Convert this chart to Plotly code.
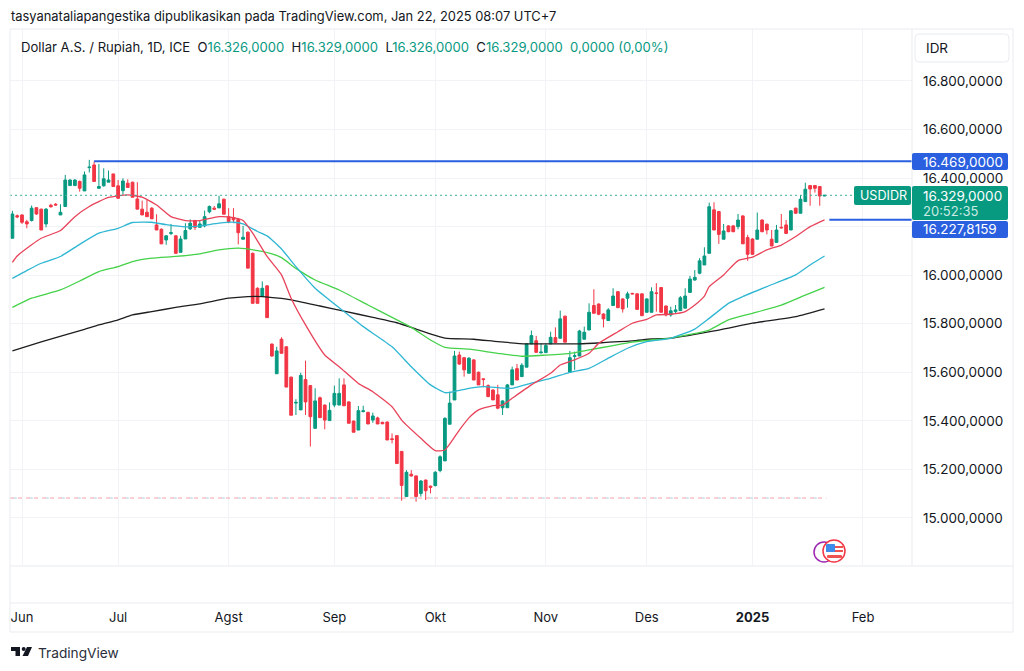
import plotly.graph_objects as go

# USD/IDR daily bars (one bar per weekday, 0 = 3 Jun 2024)
bar_index = list(range(-2, 168))
opens = [16152, 16245, 16248, 16220, 16225, 16278, 16272, 16211, 16288, 16292,
         16248, 16283, 16369, 16369, 16386, 16347, 16443, 16454, 16358, 16368,
         16383, 16417, 16368, 16348, 16379, 16383, 16314, 16272, 16259, 16276,
         16207, 16189, 16145, 16172, 16162, 16094, 16149, 16191, 16225, 16197,
         16203, 16261, 16276, 16277, 16313, 16241, 16237, 16230, 16148, 16177,
         16090, 15946, 15912, 15956, 15716, 15594, 15736, 15705, 15580, 15473,
         15445, 15570, 15545, 15369, 15495, 15465, 15401, 15465, 15465, 15548,
         15478, 15399, 15362, 15438, 15435, 15403, 15412, 15394, 15395, 15326,
         15339, 15274, 15088, 15180, 15173, 15101, 15156, 15131, 15133, 15195,
         15235, 15386, 15486, 15671, 15660, 15596, 15651, 15600, 15573, 15545,
         15527, 15507, 15454, 15454, 15548, 15615, 15582, 15621, 15717, 15730,
         15680, 15681, 15717, 15743, 15740, 15831, 15600, 15665, 15667, 15736,
         15774, 15875, 15881, 15840, 15813, 15875, 15932, 15902, 15905, 15925,
         15923, 15923, 15847, 15847, 15927, 15949, 15873, 15836, 15850, 15854,
         15864, 15929, 15980, 16008, 16042, 16090, 16269, 16262, 16148, 16203,
         16203, 16200, 16244, 16155, 16149, 16148, 16227, 16210, 16148, 16135,
         16197, 16207, 16186, 16276, 16255, 16303, 16369, 16369, 16365, 16326]
highs = [16265, 16250, 16250, 16228, 16287, 16280, 16274, 16276, 16294, 16297,
         16292, 16413, 16395, 16395, 16390, 16427, 16475, 16468, 16458, 16440,
         16431, 16417, 16392, 16399, 16395, 16385, 16383, 16307, 16310, 16280,
         16251, 16193, 16165, 16211, 16165, 16162, 16214, 16230, 16228, 16225,
         16266, 16287, 16285, 16327, 16315, 16276, 16276, 16234, 16203, 16180,
         16093, 15950, 15974, 15958, 15719, 15705, 15744, 15707, 15582, 15489,
         15598, 15648, 15548, 15534, 15500, 15467, 15476, 15545, 15575, 15575,
         15480, 15401, 15461, 15462, 15437, 15434, 15417, 15396, 15398, 15348,
         15341, 15276, 15197, 15197, 15175, 15156, 15158, 15133, 15193, 15258,
         15415, 15520, 15688, 15685, 15663, 15662, 15654, 15603, 15575, 15550,
         15530, 15548, 15484, 15552, 15623, 15634, 15637, 15720, 15772, 15750,
         15719, 15719, 15767, 15785, 15854, 15833, 15688, 15685, 15775, 15788,
         15884, 15942, 15884, 15843, 15864, 15946, 15934, 15905, 15932, 15927,
         15925, 15925, 15905, 15950, 15967, 15950, 15875, 15870, 15877, 15914,
         15946, 15997, 16021, 16070, 16115, 16299, 16300, 16265, 16211, 16206,
         16206, 16252, 16247, 16166, 16152, 16258, 16230, 16212, 16186, 16207,
         16252, 16227, 16268, 16278, 16330, 16381, 16371, 16371, 16367, 16329]
lows = [16152, 16235, 16211, 16193, 16221, 16248, 16186, 16197, 16278, 16286,
        16248, 16283, 16369, 16369, 16344, 16347, 16423, 16386, 16355, 16365,
        16383, 16365, 16314, 16331, 16361, 16321, 16272, 16248, 16241, 16232,
        16186, 16129, 16125, 16165, 16090, 16094, 16149, 16186, 16186, 16197,
        16197, 16255, 16269, 16277, 16251, 16214, 16214, 16127, 16148, 16029,
        15884, 15884, 15912, 15825, 15664, 15594, 15678, 15539, 15423, 15424,
        15445, 15424, 15294, 15369, 15413, 15365, 15401, 15456, 15465, 15462,
        15390, 15353, 15362, 15435, 15387, 15392, 15387, 15386, 15321, 15307,
        15224, 15071, 15088, 15170, 15067, 15088, 15074, 15101, 15130, 15188,
        15235, 15386, 15486, 15630, 15582, 15596, 15568, 15548, 15538, 15497,
        15486, 15448, 15424, 15454, 15548, 15568, 15582, 15621, 15717, 15682,
        15678, 15681, 15717, 15722, 15740, 15724, 15600, 15610, 15667, 15736,
        15774, 15843, 15835, 15785, 15813, 15875, 15866, 15846, 15866, 15921,
        15859, 15833, 15847, 15847, 15850, 15847, 15830, 15829, 15843, 15854,
        15864, 15929, 15977, 16004, 16042, 16090, 16186, 16129, 16148, 16177,
        16177, 16189, 16129, 16059, 16084, 16148, 16177, 16168, 16120, 16135,
        16193, 16172, 16186, 16253, 16255, 16303, 16286, 16340, 16286, 16326]
closes = [16252, 16240, 16218, 16211, 16276, 16252, 16186, 16272, 16282, 16289,
          16259, 16392, 16392, 16392, 16358, 16413, 16445, 16386, 16365, 16397,
          16392, 16365, 16317, 16388, 16361, 16321, 16272, 16248, 16241, 16232,
          16186, 16129, 16162, 16175, 16090, 16149, 16184, 16214, 16197, 16211,
          16241, 16283, 16272, 16294, 16251, 16221, 16228, 16175, 16156, 16029,
          15884, 15884, 15946, 15825, 15667, 15688, 15678, 15539, 15423, 15476,
          15587, 15478, 15417, 15482, 15413, 15403, 15443, 15513, 15513, 15462,
          15390, 15353, 15442, 15441, 15387, 15420, 15387, 15388, 15321, 15323,
          15224, 15134, 15188, 15173, 15088, 15152, 15112, 15126, 15188, 15252,
          15410, 15473, 15667, 15634, 15610, 15658, 15568, 15548, 15570, 15500,
          15486, 15452, 15482, 15548, 15610, 15568, 15629, 15717, 15751, 15682,
          15683, 15710, 15744, 15722, 15820, 15724, 15660, 15668, 15770, 15765,
          15847, 15843, 15839, 15820, 15857, 15914, 15866, 15861, 15923, 15923,
          15859, 15833, 15902, 15932, 15925, 15847, 15836, 15853, 15857, 15907,
          15914, 15984, 15991, 16059, 16079, 16282, 16186, 16168, 16182, 16179,
          16179, 16227, 16129, 16086, 16086, 16186, 16179, 16186, 16120, 16186,
          16195, 16172, 16265, 16255, 16313, 16354, 16355, 16358, 16326, 16329]

# moving averages, read at the bars where they bend
red_x = [-2, -1, 2, 4, 8, 11, 14, 18, 22, 25, 28, 31, 34, 37, 41, 44, 46, 48, 51, 54,
         56, 59, 63, 66, 70, 73, 77, 79, 83, 86, 88, 91, 93, 95, 98, 100, 102, 106, 110,
         112, 115, 118, 120, 124, 127, 130, 132, 135, 138, 140, 142, 143, 146, 149, 152,
         155, 158, 161, 164, 167]
red_y = [16053, 16079, 16125, 16152, 16184, 16241, 16283, 16320, 16331, 16321, 16289,
         16241, 16225, 16225, 16241, 16237, 16225, 16173, 16077, 16001, 15905, 15795,
         15671, 15623, 15554, 15520, 15458, 15403, 15328, 15277, 15280, 15362, 15412,
         15445, 15463, 15465, 15493, 15548, 15596, 15630, 15651, 15678, 15719, 15767,
         15802, 15818, 15836, 15839, 15850, 15877, 15914, 15953, 16001, 16060, 16074,
         16104, 16124, 16159, 16200, 16228]
blue_x = [-2, 1, 4, 8, 12, 16, 20, 23, 27, 30, 34, 37, 41, 44, 46, 49, 51, 54, 57, 61,
          67, 71, 77, 81, 85, 88, 89, 93, 96, 102, 106, 110, 114, 118, 122, 126, 130,
          135, 140, 143, 147, 150, 155, 161, 164, 167]
blue_y = [15987, 16019, 16049, 16077, 16127, 16173, 16193, 16217, 16218, 16208, 16199,
          16203, 16214, 16218, 16211, 16180, 16162, 16108, 16035, 15946, 15850, 15788,
          15705, 15623, 15548, 15516, 15517, 15534, 15541, 15534, 15555, 15575, 15600,
          15616, 15658, 15699, 15726, 15740, 15778, 15822, 15884, 15912, 15953, 16001,
          16042, 16079]
green_x = [-2, 2, 8, 12, 16, 20, 23, 27, 32, 37, 41, 45, 49, 52, 54, 57, 61, 66, 72,
           77, 81, 85, 88, 93, 99, 104, 109, 114, 118, 123, 127, 131, 135, 143, 147,
           152, 158, 163, 167]
green_y = [15867, 15905, 15939, 15976, 16015, 16035, 16056, 16070, 16077, 16088, 16104,
           16111, 16101, 16088, 16072, 16028, 15980, 15939, 15877, 15826, 15785, 15733,
           15703, 15695, 15678, 15666, 15671, 15678, 15692, 15710, 15724, 15733, 15741,
           15774, 15816, 15843, 15877, 15918, 15950]
black_x = [-2, 4, 13, 16, 20, 23, 27, 32, 37, 43, 47, 50, 54, 56, 62, 67, 73, 78, 82,
           85, 88, 94, 99, 105, 110, 116, 121, 127, 131, 135, 145, 152, 161, 167]
black_y = [15688, 15725, 15777, 15795, 15816, 15836, 15850, 15867, 15882, 15905, 15912,
           15912, 15904, 15898, 15873, 15852, 15826, 15804, 15778, 15758, 15741, 15736,
           15726, 15717, 15717, 15717, 15722, 15729, 15737, 15741, 15774, 15802, 15829,
           15861]

resistance = 16469
last_price = 16329
ma_last = 16227.8159
low_level = 15082

price_ticks = [15000, 15200, 15400, 15600, 15800, 16000, 16200, 16400, 16600, 16800]
price_labels = ["15.000,0000", "15.200,0000", "15.400,0000", "15.600,0000", "15.800,0000",
                "16.000,0000", "", "16.400,0000", "16.600,0000", "16.800,0000"]
month_ticks = [0, 20, 43, 65, 86, 109, 130, 152, 175]
month_labels = ["Jun", "Jul", "Agst", "Sep", "Okt", "Nov", "Des", "<b>2025</b>", "Feb"]

INK = "#131722"
UP = "#089981"
DOWN = "#F23645"
LEVEL = "#2A5FE0"
GRID = "#F2F3F6"
FRAME = "#E9EBEF"
FONT = "Inter"

# page pixels of the chart frame
LEFT, RIGHT, TOP, BOTTOM = 10, 1013, 29, 603
SPLIT = 912
PANE_BOTTOM = 566


def px(x):
    return (x - LEFT) / (RIGHT - LEFT)


def py(y):
    return (BOTTOM - y) / (BOTTOM - TOP)


def box_path(x0, y0, x1, y1, r=2):
    return (f"M{px(x0 + r)},{py(y0)} L{px(x1 - r)},{py(y0)} Q{px(x1)},{py(y0)} {px(x1)},{py(y0 + r)} "
            f"L{px(x1)},{py(y1 - r)} Q{px(x1)},{py(y1)} {px(x1 - r)},{py(y1)} L{px(x0 + r)},{py(y1)} "
            f"Q{px(x0)},{py(y1)} {px(x0)},{py(y1 - r)} L{px(x0)},{py(y0 + r)} Q{px(x0)},{py(y0)} {px(x0 + r)},{py(y0)} Z")


def poly_path(points):
    return "M" + " L".join(f"{px(x)},{py(y)}" for x, y in points) + " Z"


def shape_path(path, fill, line=None, width=0):
    return dict(type="path", path=path, xref="paper", yref="paper", fillcolor=fill,
                line=dict(color=line or fill, width=width), layer="above")


def circle(cx, cy, r, fill, line, width):
    return dict(type="circle", xref="paper", yref="paper", x0=px(cx - r), x1=px(cx + r),
                y0=py(cy + r), y1=py(cy - r), fillcolor=fill,
                line=dict(color=line, width=width), layer="above")


def frame_line(x0, y0, x1, y1):
    return dict(type="line", xref="paper", yref="paper", x0=px(x0), x1=px(x1), y0=py(y0), y1=py(y1),
                line=dict(color=FRAME, width=1), layer="above")


def label(x, y, text, size=13.5, color=INK, anchor="left"):
    return dict(xref="paper", yref="paper", x=px(x), y=py(y), text=text, showarrow=False,
                xanchor=anchor, yanchor="middle", align="left", borderpad=0,
                font=dict(family=FONT, size=size, color=color))


def val(text):
    return f'<span style="color:{UP}">{text}</span>'


fig = go.Figure()

for xs, ys, color in [(black_x, black_y, "#1E1E1E"), (green_x, green_y, "#45D24A"),
                      (blue_x, blue_y, "#2EB6D3"), (red_x, red_y, "#E8435A")]:
    fig.add_trace(go.Scatter(x=xs, y=ys, mode="lines",
                             line=dict(color=color, width=1.3, shape="spline", smoothing=0.5)))

fig.add_trace(go.Scatter(x=[-2.5, 173], y=[last_price, last_price], mode="lines",
                         line=dict(color="#3FAF9A", width=1, dash="2px 3px")))
fig.add_trace(go.Scatter(x=[-2.5, 167.4], y=[low_level, low_level], mode="lines",
                         line=dict(color="#F4A3AC", width=1, dash="4px 4px")))
fig.add_trace(go.Scatter(x=[-1.7, 167.4], y=[low_level, low_level], mode="lines",
                         line=dict(color="#A9CDE6", width=1, dash="3px 13px")))
fig.add_trace(go.Scatter(x=[15, 185.2], y=[resistance, resistance], mode="lines",
                         line=dict(color=LEVEL, width=2)))
fig.add_trace(go.Scatter(x=[168, 185.2], y=[ma_last, ma_last], mode="lines",
                         line=dict(color=LEVEL, width=2)))

fig.add_trace(go.Candlestick(x=bar_index, open=opens, high=highs, low=lows, close=closes,
                             whiskerwidth=0,
                             increasing=dict(line=dict(color=UP, width=1), fillcolor=UP),
                             decreasing=dict(line=dict(color=DOWN, width=1), fillcolor=DOWN)))

shapes = [
    frame_line(LEFT, TOP, RIGHT, TOP),
    frame_line(LEFT, PANE_BOTTOM, RIGHT, PANE_BOTTOM),
    frame_line(LEFT, BOTTOM, RIGHT, BOTTOM),
    frame_line(LEFT, 632, RIGHT, 632),
    frame_line(LEFT, TOP, LEFT, 632),
    frame_line(RIGHT, TOP, RIGHT, 632),
    frame_line(SPLIT, TOP, SPLIT, PANE_BOTTOM),
    shape_path(box_path(915, 34, 1009, 62, 4), "#FFFFFF", FRAME, 1),
    shape_path(box_path(912, 153, 1008, 170), LEVEL),
    shape_path(box_path(854, 186, 911, 205), UP),
    shape_path(box_path(912, 186, 1008, 220), UP),
    shape_path(box_path(912, 221, 1008, 238), LEVEL),
    # events badges
    circle(824, 552, 10, "#FFFFFF", "#9C27B0", 1.5),
    circle(834, 551, 11, "#FFFFFF", "#F23645", 1.5),
    shape_path(box_path(826, 546, 843, 548, 0), "#EF5350"),
    shape_path(box_path(826, 550, 843, 552, 0), "#EF5350"),
    shape_path(box_path(827, 555, 842, 558, 1), "#EF5350"),
    shape_path(box_path(826, 544, 835, 552, 1), "#3D8BEA"),
    # TradingView mark
    shape_path(poly_path([(11, 647), (20, 647), (20, 656), (15.5, 656), (15.5, 651), (11, 651)]), INK),
    circle(23.7, 649, 2, INK, INK, 0),
    shape_path(poly_path([(27, 647), (32, 647), (28, 656), (22.5, 656)]), INK),
]

annotations = [
    label(10, 17, "tasyanataliapangestika dipublikasikan pada TradingView.com, Jan 22, 2025 08:07 UTC+7", 12.9),
    label(20, 47, f"Dollar A.S. / Rupiah, 1D, ICE  O{val('16.326,0000')}  H{val('16.329,0000')}  "
                  f"L{val('16.326,0000')}  C{val('16.329,0000')}  {val('0,0000 (0,00%)')}", 13.1),
    label(925, 48, "IDR", 13.5),
    label(922, 161.5, "16.469,0000", 13.5, "#FFFFFF"),
    label(859, 195.5, "USDIDR", 12.6, "#FFFFFF"),
    label(922, 195.5, "16.329,0000", 13.5, "#FFFFFF"),
    label(922, 211, "20:52:35", 13, "#C8EBE3"),
    label(922, 229.5, "16.227,8159", 13.5, "#FFFFFF"),
    label(37, 652.5, "TradingView", 13.7, "#2A2E39"),
]

fig.update_layout(
    width=1024, height=671,
    margin=dict(l=LEFT, r=1024 - RIGHT, t=TOP, b=671 - BOTTOM, pad=0),
    paper_bgcolor="#FFFFFF", plot_bgcolor="#FFFFFF",
    showlegend=False, boxgap=0.18,
    font=dict(family=FONT, size=13.5, color=INK),
    shapes=shapes, annotations=annotations,
    xaxis=dict(domain=[0, px(SPLIT)], range=[-2.5, 185.2], anchor="free", position=0,
               tickmode="array", tickvals=month_ticks, ticktext=month_labels,
               showgrid=True, gridcolor=GRID, gridwidth=1, zeroline=False, showline=False,
               ticks="", ticklabelstandoff=5, rangeslider=dict(visible=False),
               tickfont=dict(family=FONT, size=13, color=INK)),
    yaxis=dict(domain=[py(PANE_BOTTOM), 1], range=[14802, 17014], side="right",
               tickmode="array", tickvals=price_ticks, ticktext=price_labels,
               showgrid=True, gridcolor=GRID, gridwidth=1, zeroline=False, showline=False,
               ticks="", ticklabelstandoff=10,
               tickfont=dict(family=FONT, size=13.5, color=INK)),
)

fig.write_html("out.html", config=dict(displayModeBar=False),
               post_script="document.body.style.margin='0';window.dispatchEvent(new Event('resize'));")
